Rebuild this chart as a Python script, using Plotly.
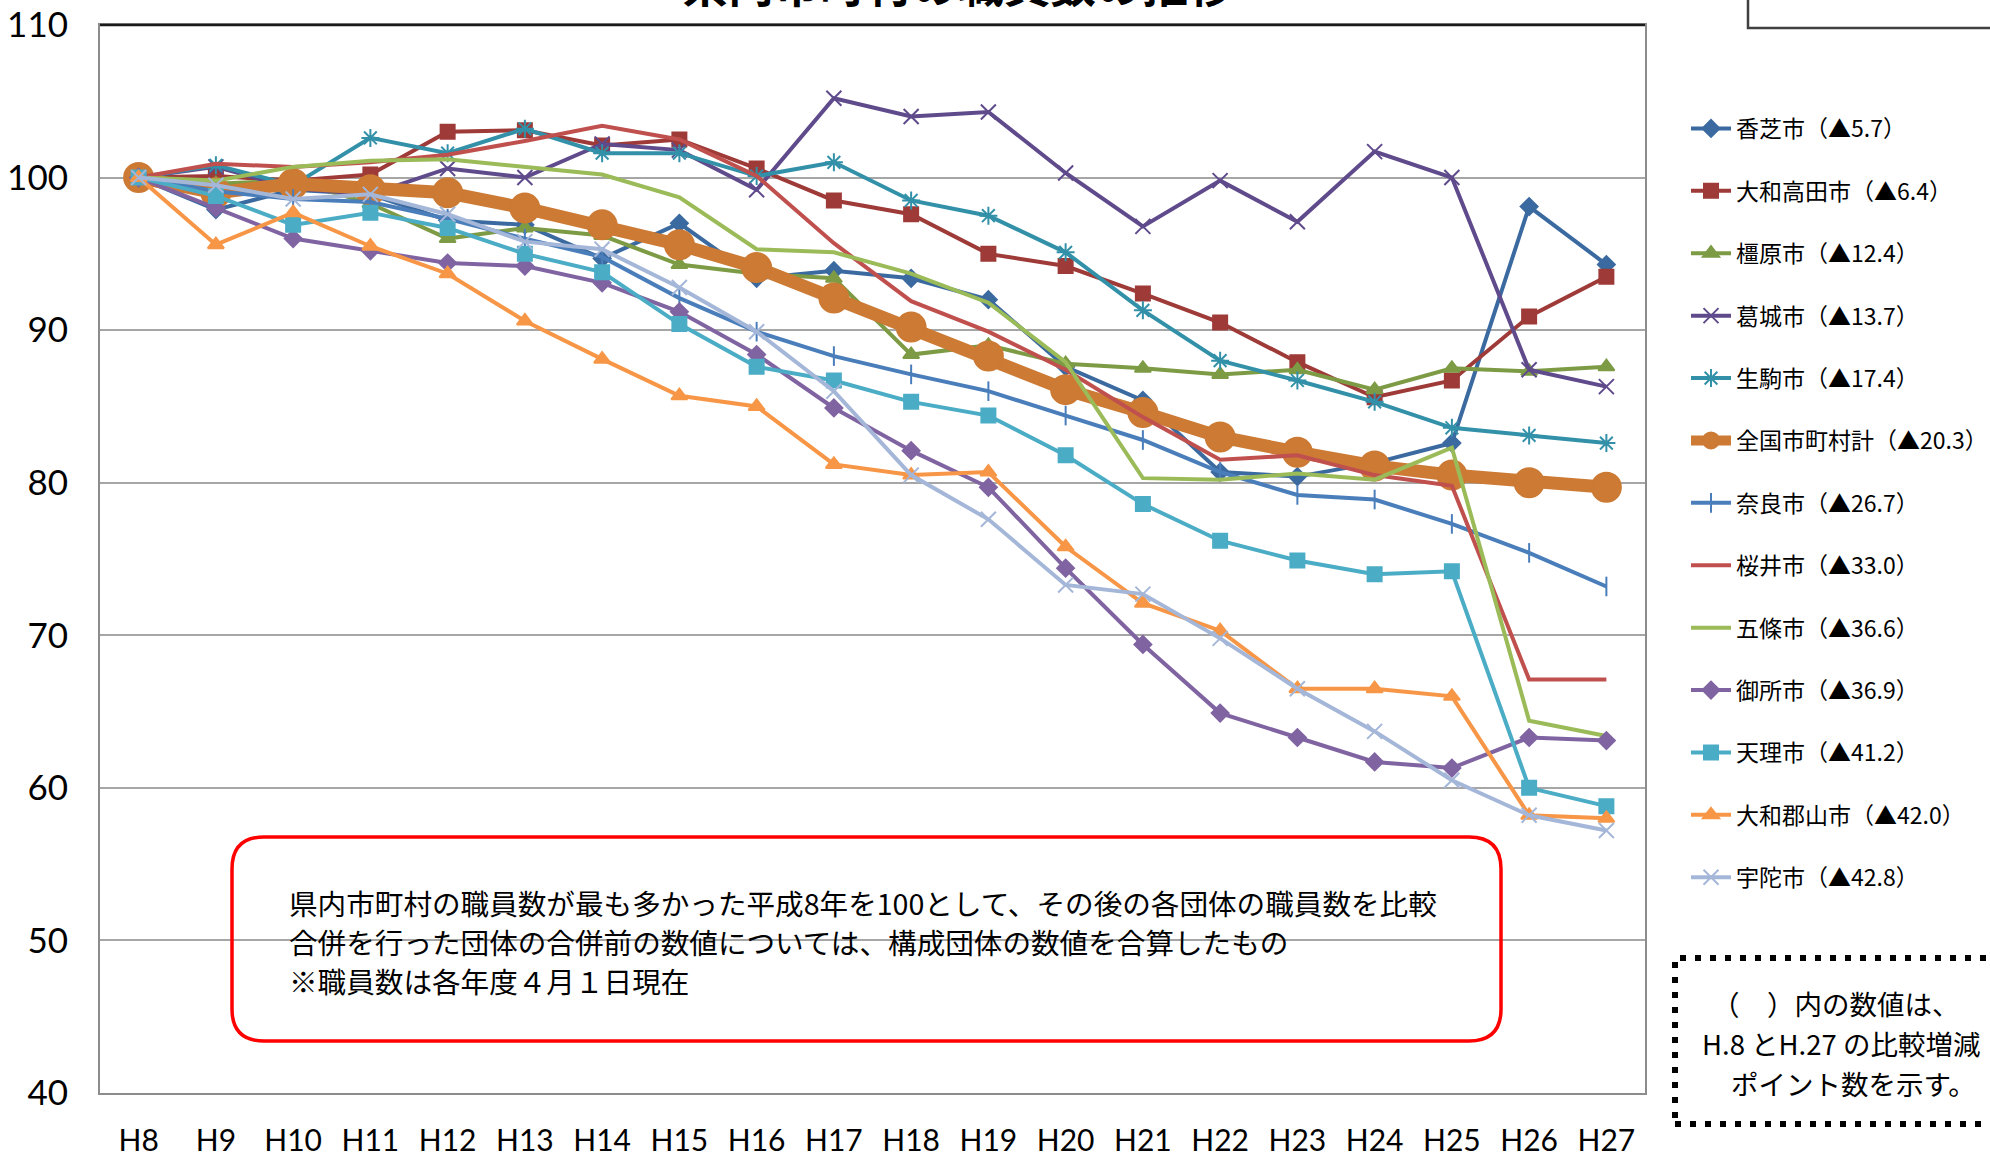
import plotly.graph_objects as go

years = ["H8", "H9", "H10", "H11", "H12", "H13", "H14", "H15", "H16", "H17",
         "H18", "H19", "H20", "H21", "H22", "H23", "H24", "H25", "H26", "H27"]

kashiba = [100, 97.9, 99.2, 98.9, 97.2, 96.9, 94.7, 97.0, 93.4, 93.9, 93.4, 92.0, 87.6, 85.4, 80.7, 80.4, 81.3, 82.6, 98.1, 94.3]
yamatotakada = [100, 100.1, 99.8, 100.2, 103.0, 103.1, 102.1, 102.5, 100.6, 98.5, 97.6, 95.0, 94.2, 92.4, 90.5, 87.9, 85.6, 86.7, 90.9, 93.5]
kashihara = [100, 99.6, 99.8, 98.3, 96.0, 96.7, 96.2, 94.3, 93.7, 93.4, 88.4, 89.0, 87.8, 87.5, 87.1, 87.4, 86.1, 87.5, 87.3, 87.6]
katsuragi = [100, 100.7, 99.3, 98.9, 100.6, 100.0, 102.2, 101.8, 99.2, 105.2, 104.0, 104.3, 100.3, 96.8, 99.8, 97.1, 101.7, 100.0, 87.4, 86.3]
ikoma = [100, 100.8, 99.5, 102.6, 101.6, 103.2, 101.6, 101.6, 100.1, 101.0, 98.5, 97.5, 95.1, 91.3, 88.0, 86.7, 85.3, 83.6, 83.1, 82.6]
zenkoku = [100, 99.0, 99.6, 99.2, 99.0, 98.0, 96.9, 95.6, 94.1, 92.1, 90.2, 88.3, 86.1, 84.6, 83.0, 82.0, 81.1, 80.5, 80.0, 79.7]
nara = [100, 99.1, 98.6, 98.4, 97.3, 96.0, 94.8, 92.1, 89.9, 88.3, 87.1, 86.0, 84.4, 82.8, 80.7, 79.2, 78.9, 77.3, 75.4, 73.2]
sakurai = [100, 100.9, 100.7, 101.0, 101.5, 102.4, 103.4, 102.5, 100.1, 95.7, 91.9, 89.9, 87.4, 84.3, 81.5, 81.8, 80.5, 79.8, 67.1, 67.1]
gojo = [100, 99.8, 100.7, 101.1, 101.2, 100.7, 100.2, 98.7, 95.3, 95.1, 93.7, 91.8, 87.9, 80.3, 80.2, 80.6, 80.2, 82.3, 64.4, 63.4]
gose = [100, 98.0, 96.0, 95.2, 94.4, 94.2, 93.1, 91.2, 88.4, 84.9, 82.1, 79.7, 74.4, 69.4, 64.9, 63.3, 61.7, 61.3, 63.3, 63.1]
tenri = [100, 98.8, 96.9, 97.7, 96.7, 95.0, 93.8, 90.4, 87.6, 86.7, 85.3, 84.4, 81.8, 78.6, 76.2, 74.9, 74.0, 74.2, 60.0, 58.8]
koriyama = [100, 95.6, 97.7, 95.5, 93.7, 90.6, 88.1, 85.7, 85.0, 81.2, 80.5, 80.7, 75.8, 72.1, 70.3, 66.5, 66.5, 66.0, 58.2, 58.0]
uda = [100, 99.5, 98.6, 98.9, 97.6, 95.8, 95.3, 92.8, 89.9, 86.0, 80.5, 77.6, 73.3, 72.7, 69.8, 66.5, 63.7, 60.5, 58.2, 57.2]

names = ["香芝市（▲5.7）", "大和高田市（▲6.4）", "橿原市（▲12.4）", "葛城市（▲13.7）",
         "生駒市（▲17.4）", "全国市町村計（▲20.3）", "奈良市（▲26.7）", "桜井市（▲33.0）",
         "五條市（▲36.6）", "御所市（▲36.9）", "天理市（▲41.2）", "大和郡山市（▲42.0）",
         "宇陀市（▲42.8）"]
series = [kashiba, yamatotakada, kashihara, katsuragi, ikoma, zenkoku, nara,
          sakurai, gojo, gose, tenri, koriyama, uda]

y_ticks = [40, 50, 60, 70, 80, 90, 100, 110]

note_lines = ["県内市町村の職員数が最も多かった平成8年を100として、その後の各団体の職員数を比較",
              "合併を行った団体の合併前の数値については、構成団体の数値を合算したもの",
              "※職員数は各年度４月１日現在"]
side_lines = ["（　）内の数値は、", "H.8 とH.27 の比較増減", "ポイント数を示す。"]
title_text = "県内市町村の職員数の推移"

styles = [
    dict(color="#3B6AA0", symbol="diamond", size=13, width=4),
    dict(color="#9E3A37", symbol="square", size=14, width=4),
    dict(color="#7D9B45", symbol="triangle-up", size=14, width=4),
    dict(color="#5F4A8B", symbol="x-thin-open", size=15, width=4),
    dict(color="#3291A8", symbol="asterisk-open", size=15, width=4),
    dict(color="#CC7A34", symbol="circle", size=29, width=13),
    dict(color="#4A7EBB", symbol="line-ns-open", size=14, width=4),
    dict(color="#C0504D", symbol=None, size=0, width=4),
    dict(color="#9BBB59", symbol=None, size=0, width=4),
    dict(color="#8064A2", symbol="diamond", size=13, width=4),
    dict(color="#4BACC6", symbol="square", size=14, width=4),
    dict(color="#F79646", symbol="triangle-up", size=14, width=4),
    dict(color="#A5B7D8", symbol="x-thin-open", size=15, width=4),
]

fig = go.Figure()
for i, (nm, vals, st) in enumerate(zip(names, series, styles)):
    if st["symbol"] is None:
        mode = "lines"
        marker = None
    else:
        mode = "lines+markers"
        marker = dict(symbol=st["symbol"], size=st["size"], color=st["color"],
                      line=dict(color=st["color"], width=2))
    fig.add_trace(go.Scatter(
        x=years, y=vals, name=nm, mode=mode, marker=marker,
        line=dict(color=st["color"], width=st["width"]),
        legendgroup=f"g{i}",
    ))

# layout geometry (pixels)
W, H = 1990, 1157
L, R, T, B = 100, 1645, 25, 1093
pw, ph = R - L, B - T


def px(X):
    return (X - L) / pw


def py(Y):
    return (B - Y) / ph


shapes = []
# darker top border
shapes.append(dict(type="line", xref="paper", yref="paper", x0=0, x1=1, y0=1, y1=1,
                   line=dict(color="#1a1a1a", width=2.5)))
# rounded red box
x0, x1, y0, y1, r = 232, 1501, 837, 1041, 32
path = (f"M {px(x0 + r)},{py(y0)} L {px(x1 - r)},{py(y0)} "
        f"Q {px(x1)},{py(y0)} {px(x1)},{py(y0 + r)} L {px(x1)},{py(y1 - r)} "
        f"Q {px(x1)},{py(y1)} {px(x1 - r)},{py(y1)} L {px(x0 + r)},{py(y1)} "
        f"Q {px(x0)},{py(y1)} {px(x0)},{py(y1 - r)} L {px(x0)},{py(y0 + r)} "
        f"Q {px(x0)},{py(y0)} {px(x0 + r)},{py(y0)} Z")
shapes.append(dict(type="path", xref="paper", yref="paper", path=path,
                   line=dict(color="#FF0000", width=3.5), fillcolor="rgba(255,255,255,0)"))
# dotted box bottom right
shapes.append(dict(type="rect", xref="paper", yref="paper",
                   x0=px(1675), x1=px(2010), y0=py(1124), y1=py(958),
                   line=dict(color="#000000", width=6, dash="6px,9px")))
# cut-off box top right
shapes.append(dict(type="rect", xref="paper", yref="paper",
                   x0=px(1748), x1=px(2020), y0=py(28), y1=py(-30),
                   line=dict(color="#404040", width=2.5)))

annotations = []
for k, line in enumerate(note_lines):
    annotations.append(dict(text=line, xref="paper", yref="paper", x=px(287), y=py(902 + 39 * k),
                            xanchor="left", yanchor="middle", showarrow=False,
                            font=dict(family="Noto Sans CJK JP", size=28.6, color="#000000")))
side_x = [1836, 1841, 1853]
for k, line in enumerate(side_lines):
    annotations.append(dict(text=line, xref="paper", yref="paper", x=px(side_x[k]), y=py(1003 + 40 * k),
                            xanchor="center", yanchor="middle", showarrow=False,
                            font=dict(family="Noto Sans CJK JP", size=27.5, color="#000000")))
annotations.append(dict(text=f"<b>{title_text}</b>", xref="paper", yref="paper",
                        x=px(958), y=py(17), xanchor="center", yanchor="bottom", showarrow=False,
                        font=dict(family="Noto Sans CJK JP", size=46, color="#000000")))

fig.update_layout(
    width=W, height=H,
    margin=dict(l=L, r=W - R, t=T, b=H - B, pad=0, autoexpand=False),
    paper_bgcolor="#FFFFFF", plot_bgcolor="#FFFFFF",
    showlegend=True,
    legend=dict(x=px(1686), y=py(107), xanchor="left", yanchor="top",
                font=dict(family="Noto Sans CJK JP", size=23, color="#000000"),
                tracegroupgap=29.5, bgcolor="rgba(0,0,0,0)", itemwidth=40),
    shapes=shapes,
    annotations=annotations,
    xaxis=dict(type="category", categoryorder="array", categoryarray=years,
               range=[-0.5, len(years) - 0.5], showgrid=False, automargin=False,
               showline=True, linecolor="#8c8c8c", linewidth=2, mirror=True,
               ticks="", ticklabelstandoff=20,
               tickfont=dict(family="Lato", size=30, color="#000000")),
    yaxis=dict(range=[40, 110], tickvals=y_ticks, ticktext=[str(v) for v in y_ticks],
               showgrid=True, gridcolor="#a6a6a6", gridwidth=2, automargin=False,
               showline=True, linecolor="#8c8c8c", linewidth=2, mirror=True,
               zeroline=False, ticks="", ticklabelstandoff=23,
               tickfont=dict(family="Lato", size=35, color="#000000")),
)

fig.write_html("out.html", config={"displayModeBar": False},
               post_script="document.body.style.margin='0';document.body.style.overflow='hidden';")
